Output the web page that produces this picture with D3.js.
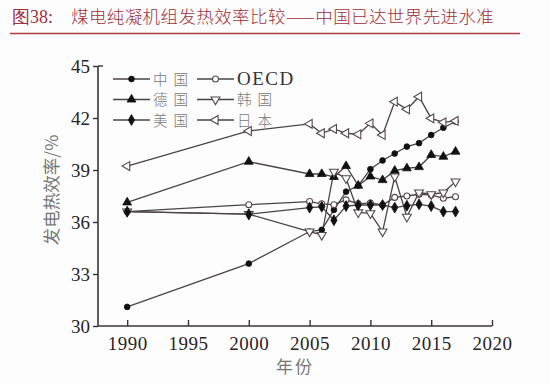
<!DOCTYPE html>
<html>
<head>
<meta charset="utf-8">
<script src="https://cdn.jsdelivr.net/npm/d3@7"></script>
<style>
  html, body { margin: 0; padding: 0; background: #fdfdfe; }
  svg { display: block; }
</style>
</head>
<body>
<svg id="chart" width="550" height="385"></svg>
<script>
// ---- data ----
const years   = [1990, 2000, 2005, 2006, 2007, 2008, 2009, 2010, 2011, 2012, 2013, 2014, 2015, 2016, 2017];
const china   = [31.1, 33.6, 35.45, 35.55, 36.7, 37.75, 38.1, 39.05, 39.55, 39.95, 40.35, 40.55, 41.02, 41.44, 41.8];
const oecd    = [36.6, 37.0, 37.18, 37.05, 37.0, 37.28, 37.05, 37.1, 36.98, 37.42, 37.5, 37.6, 37.56, 37.37, 37.46];
const germany = [37.13, 39.48, 38.77, 38.77, 38.6, 39.23, 38.1, 38.63, 38.42, 38.96, 39.1, 39.17, 39.87, 39.77, 40.06];
const korea   = [36.6, 36.45, 35.45, 35.25, 38.9, 38.52, 36.55, 36.5, 35.45, 38.62, 36.3, 37.7, 37.6, 37.7, 38.33];
const usa     = [36.6, 36.45, 36.83, 36.88, 36.1, 36.92, 36.98, 36.98, 36.98, 36.83, 36.94, 37.02, 36.92, 36.6, 36.6];
const japan   = [39.23, 41.25, 41.66, 41.12, 41.37, 41.12, 41.06, 41.69, 41.02, 42.94, 42.5, 43.23, 41.98, 41.75, 41.83];

const seriesNames = ["中国", "OECD", "德国", "韩国", "美国", "日本"];
const xTicks = [1990, 1995, 2000, 2005, 2010, 2015, 2020];
const yTicks = [30, 33, 36, 39, 42, 45];
const titleText = "图38:";
const titleMain = "煤电纯凝机组发热效率比较——中国已达世界先进水准";
const xTitle = "年份";
const yTitle = "发电热效率/%";

// ---- setup ----
const svg = d3.select("#chart");
const x = d3.scaleLinear().domain([1987.6, 2020]).range([98, 492]);
const y = d3.scaleLinear().domain([30, 45]).range([326, 66]);

const lineColor = "#4a4446";
const openStroke = "#5a474c";
const serif = "'Liberation Serif', 'Times New Roman', serif";
const cjk = "'Noto Sans CJK SC', sans-serif";

// title
svg.append("text").attr("x", 12).attr("y", 23)
  .attr("font-family", serif).attr("font-size", 18).attr("fill", "#a0303c")
  .text(titleText);
svg.append("text").attr("x", 71).attr("y", 23)
  .attr("font-family", cjk).attr("font-size", 17.5).attr("fill", "#a0303c")
  .attr("font-weight", 300).attr("letter-spacing", 0.4)
  .text(titleMain);
svg.append("line").attr("x1", 10).attr("x2", 520).attr("y1", 33.5).attr("y2", 33.5)
  .attr("stroke", "#b23a44").attr("stroke-width", 1.5);

// axes
const gx = svg.append("g").attr("transform", "translate(0,326)")
  .call(d3.axisBottom(x).tickValues(xTicks).tickFormat(d3.format("d")).tickSizeInner(-6).tickSizeOuter(0).tickPadding(11));
const gy = svg.append("g").attr("transform", "translate(98,0)")
  .call(d3.axisLeft(y).tickValues(yTicks).tickSizeInner(5).tickSizeOuter(0).tickPadding(3));
[gx, gy].forEach(g => {
  g.select(".domain").attr("stroke", "#3a3436").attr("stroke-width", 1.6);
  g.selectAll(".tick line").attr("stroke", "#3a3436").attr("stroke-width", 1.4);
  g.selectAll(".tick text").attr("font-family", serif).attr("font-size", 19).attr("fill", "#2a2426");
});
gx.selectAll(".tick text").attr("letter-spacing", 0.5);
gx.select(".domain").attr("d", `M98,0H${x(2020)}`);
gy.select(".domain").attr("d", `M0,${y(30)}V${y(45)}`);
svg.append("line").attr("x1", 98).attr("x2", 103).attr("y1", y(45)).attr("y2", y(45))
  .attr("stroke", "#3a3436").attr("stroke-width", 1.4);

// axis titles
svg.append("text").attr("x", 295).attr("y", 373).attr("text-anchor", "middle")
  .attr("font-family", cjk).attr("font-size", 17).attr("fill", "#777").attr("letter-spacing", 2)
  .text(xTitle);
svg.append("text").attr("transform", "translate(58,190) rotate(-90)").attr("text-anchor", "middle")
  .attr("font-family", cjk).attr("font-size", 17.5).attr("fill", "#777")
  .text(yTitle);

// series
const series = [
  { name: seriesNames[0], values: china,   sym: d3.symbolCircle,   size: 26, rot: 0,   filled: true },
  { name: seriesNames[1], values: oecd,    sym: d3.symbolCircle,   size: 28, rot: 0,   filled: false },
  { name: seriesNames[2], values: germany, sym: d3.symbolTriangle, size: 34, rot: 0,   filled: true },
  { name: seriesNames[3], values: korea,   sym: d3.symbolTriangle, size: 34, rot: 180, filled: false },
  { name: seriesNames[4], values: usa,     sym: d3.symbolDiamond,  size: 34, rot: 0,   filled: true },
  { name: seriesNames[5], values: japan,   sym: d3.symbolTriangle, size: 34, rot: -90, filled: false }
];

const line = d3.line().x(d => x(d[0])).y(d => y(d[1]));
const plot = svg.append("g");
series.forEach(s => {
  const pts = years.map((yr, i) => [yr, s.values[i]]);
  plot.append("path").datum(pts).attr("d", line)
    .attr("fill", "none").attr("stroke", lineColor).attr("stroke-width", 1.3);
});
function drawMarker(g, s, cx, cy) {
  g.append("path").attr("d", d3.symbol().type(s.sym).size(s.size)())
    .attr("transform", `translate(${cx},${cy}) rotate(${s.rot})`)
    .attr("fill", s.filled ? "#111" : "#fff")
    .attr("stroke", s.filled ? "#111" : openStroke)
    .attr("stroke-width", s.filled ? 0.8 : 1.1);
}
series.forEach(s => {
  years.forEach((yr, i) => drawMarker(plot, s, x(yr), y(s.values[i])));
});

// legend
const legend = svg.append("g");
series.forEach((s, i) => {
  const col = i % 2, row = Math.floor(i / 2);
  const lx = col === 0 ? 113 : 197;
  const ly = 79 + row * 20.5;
  legend.append("line").attr("x1", lx).attr("x2", lx + 37).attr("y1", ly).attr("y2", ly)
    .attr("stroke", lineColor).attr("stroke-width", 1.3);
  drawMarker(legend, s, lx + 18.5, ly);
  const isLatin = /^[A-Za-z]+$/.test(s.name);
  legend.append("text").attr("x", lx + 40).attr("y", ly + 5.5)
    .attr("font-family", isLatin ? serif : cjk)
    .attr("font-size", isLatin ? 19 : 14.5)
    .attr("letter-spacing", isLatin ? 1.5 : 6)
    .attr("fill", isLatin ? "#333" : "#777")
    .attr("font-weight", isLatin ? 400 : 300)
    .text(s.name);
});
</script>
</body>
</html>
